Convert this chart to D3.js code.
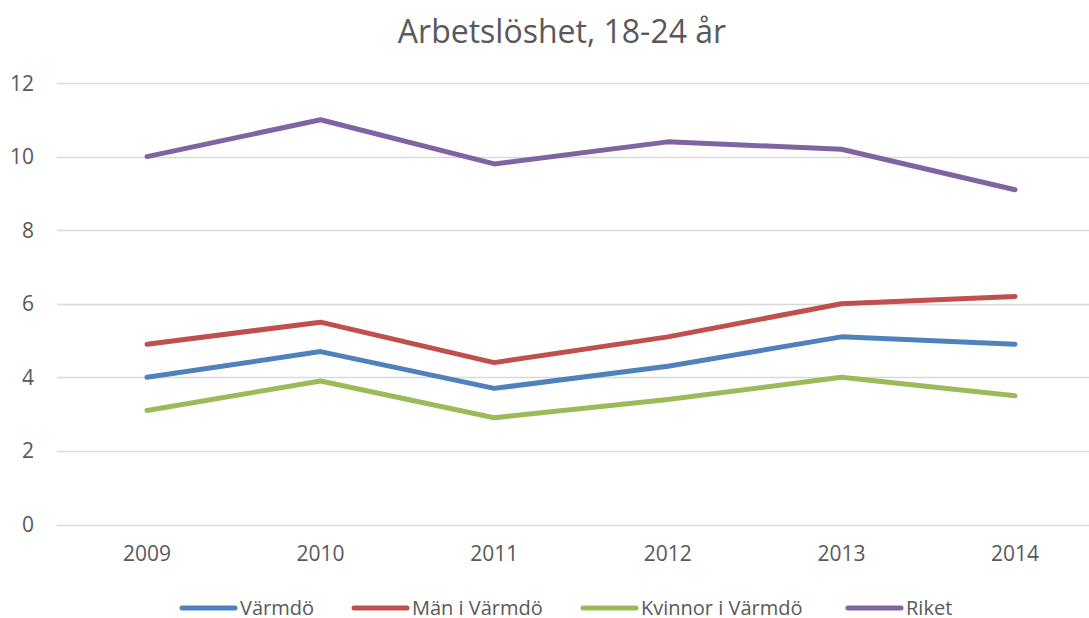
<!DOCTYPE html>
<html>
<head>
<meta charset="utf-8">
<script src="https://cdn.jsdelivr.net/npm/d3@7"></script>
<style>
  body { margin: 0; background: #fff; }
  svg text { font-family: "Open Sans", sans-serif; fill: #595959; }
</style>
</head>
<body>
<div class="chart"></div>
<script>
const years = ['2009', '2010', '2011', '2012', '2013', '2014'];
const varmdo = [4.0, 4.7, 3.7, 4.3, 5.1, 4.9];
const man = [4.9, 5.5, 4.4, 5.1, 6.0, 6.2];
const kvinnor = [3.1, 3.9, 2.9, 3.4, 4.0, 3.5];
const riket = [10.0, 11.0, 9.8, 10.4, 10.2, 9.1];
const yTicks = [0, 2, 4, 6, 8, 10, 12];

const series = [
  { name: 'Värmdö', values: varmdo, color: '#4F81BD' },
  { name: 'Män i Värmdö', values: man, color: '#C0504D' },
  { name: 'Kvinnor i Värmdö', values: kvinnor, color: '#9BBB59' },
  { name: 'Riket', values: riket, color: '#8064A2' }
];

let width = 1089, height = 618;

let svg = d3.select('.chart').append('svg')
  .attr('width', width)
  .attr('height', height)

let x = d3.scalePoint()
  .domain(years)
  .range([147, 1015])

let y = d3.scaleLinear()
  .domain([0, 12])
  .range([524.5, 83])

// gridlines
svg.append('g')
  .selectAll('line')
  .data(yTicks)
  .enter()
  .append('line')
  .attr('x1', 57)
  .attr('x2', width)
  .attr('y1', d => Math.round(y(d)) + 0.5)
  .attr('y2', d => Math.round(y(d)) + 0.5)
  .attr('stroke', '#d9d9d9')
  .attr('stroke-width', 1.5)

// y labels
svg.append('g')
  .selectAll('text')
  .data(yTicks)
  .enter()
  .append('text')
  .attr('x', 34)
  .attr('y', d => y(d))
  .attr('dy', '0.36em')
  .attr('text-anchor', 'end')
  .attr('font-size', 21)
  .text(d => d)

// x labels
svg.append('g')
  .selectAll('text')
  .data(years)
  .enter()
  .append('text')
  .attr('x', d => x(d))
  .attr('y', 561)
  .attr('text-anchor', 'middle')
  .attr('font-size', 21)
  .text(d => d)

let line = d3.line()
  .x((d, i) => x(years[i]))
  .y(d => y(d))

svg.append('g')
  .selectAll('path')
  .data(series)
  .enter()
  .append('path')
  .attr('d', d => line(d.values))
  .attr('fill', 'none')
  .attr('stroke', d => d.color)
  .attr('stroke-width', 5)
  .attr('stroke-linecap', 'round')
  .attr('stroke-linejoin', 'round')

// title
svg.append('text')
  .attr('x', 562)
  .attr('y', 43)
  .attr('text-anchor', 'middle')
  .attr('font-size', 32)
  .text('Arbetslöshet, 18-24 år')

// legend
const legendX = [180, 352, 581, 846];
let legend = svg.append('g')
  .selectAll('g')
  .data(series)
  .enter()
  .append('g')
  .attr('transform', (d, i) => `translate(${legendX[i]},608)`)

legend.append('line')
  .attr('x1', 2)
  .attr('x2', 55)
  .attr('stroke', d => d.color)
  .attr('stroke-width', 5)
  .attr('stroke-linecap', 'round')

legend.append('text')
  .attr('x', 60)
  .attr('dy', '0.36em')
  .attr('font-size', 20)
  .text(d => d.name)
</script>
</body>
</html>
